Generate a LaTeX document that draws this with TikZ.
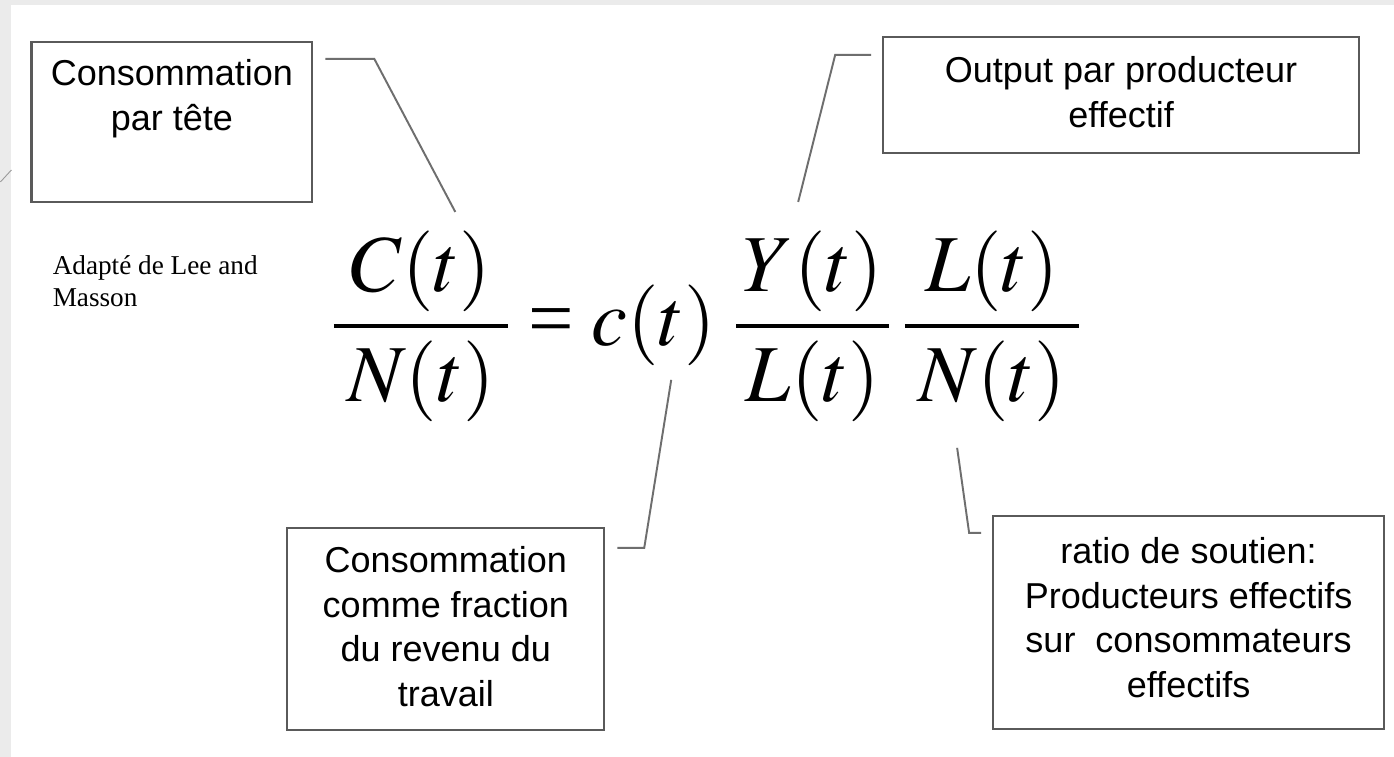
\documentclass[tikz,border=0pt]{standalone}
\usepackage{amsmath}
\usepackage{mathptmx}
\usepackage[no-math]{fontspec}
\newfontfamily\arialfont{Liberation Sans}
\newfontfamily\notefont{Liberation Serif}
\usepackage{tikz}
\usetikzlibrary{positioning}
\definecolor{FrameGray}{HTML}{EBEBEB}
\definecolor{LeadGray}{HTML}{6E6E6E}
\definecolor{BoxGray}{HTML}{5A5A5A}
% fraction with a heavier bar and a little overhang
\newcommand{\wfrac}[3][2mu]{\genfrac{}{}{2.2pt}{0}{\mkern#1#2\mkern#1}{\mkern#1#3\mkern#1}}
\newcommand{\teq}{\mathrel{\hbox{\notefont=}}}

\begin{document}
\begin{tikzpicture}[
  x=0.02cm, y=-0.02cm,
  boxe/.style={draw=BoxGray, line width=1.2pt, fill=white},
  btxt/.style={font=\arialfont\fontsize{20.5}{25.5}\selectfont,
    align=center, inner sep=0pt},
  lead/.style={draw=LeadGray, line width=1.1pt},
  note/.style={font=\notefont\fontsize{15.5}{18.2}\selectfont,
    align=left, inner sep=0pt}
]
  % slide frame
  \fill[white] (0,0) rectangle (1394,757);
  \fill[FrameGray] (0,0) rectangle (1394,5);
  \fill[FrameGray] (0,0) rectangle (11,757);
  \draw[LeadGray!70, line width=0.5pt] (0,182) -- (11,170);
  \useasboundingbox (0,0) rectangle (1394,757);

  % the identity
  \node[anchor=base west, inner sep=0pt, font=\fontsize{46}{50}\selectfont] (eq)
    at (331,346)
    {$\displaystyle \wfrac[3mu]{C(t)}{N(t)} \teq c(t)\mkern4mu\wfrac[1.5mu]{Y(t)}{L(t)}\mkern2.5mu\wfrac[3mu]{L(t)}{N(t)}$};
  \coordinate (tipC) at (455,212);
  \coordinate (tipY) at (798,202);
  \coordinate (tipc) at (671,380);
  \coordinate (tipN) at (957,448);

  % boxes
  \node[boxe, minimum width=5.62cm, minimum height=3.2cm] (cpt) at (171.5,122) {};
  \node[btxt, below=0.36cm of cpt.north] (cpt-t) {Consommation\\par tête};

  \node[boxe, minimum width=9.52cm, minimum height=2.32cm] (out) at (1121,95) {};
  \node[btxt, below=0.4cm of out.north] (out-t) {Output par producteur\\effectif};

  \node[boxe, minimum width=6.34cm, minimum height=4.04cm] (frac) at (445.5,629) {};
  \node[btxt, below=0.38cm of frac.north] (frac-t)
    {Consommation\\comme fraction\\du revenu du\\travail};

  \node[boxe, minimum width=7.82cm, minimum height=4.26cm] (sout) at (1188.5,622.5) {};
  \node[btxt, below=0.44cm of sout.north] (sout-t)
    {ratio de soutien:\\Producteurs effectifs\\sur~ consommateurs\\effectifs};

  \node[note, anchor=base west] (src) at (52,307) {Adapté de Lee and\\Masson};

  % leaders
  \draw[lead] ([shift={(12,18)}]cpt.north east) -- ++(49,0) -- (tipC);
  \draw[lead] ([shift={(-11,19)}]out.north west) -- ++(-36,0) -- (tipY);
  \draw[lead] ([shift={(12,21)}]frac.north east) -- ++(27,0) -- (tipc);
  \draw[lead] ([shift={(-11,18)}]sout.north west) -- ++(-12,0) -- (tipN);
\end{tikzpicture}
\end{document}
